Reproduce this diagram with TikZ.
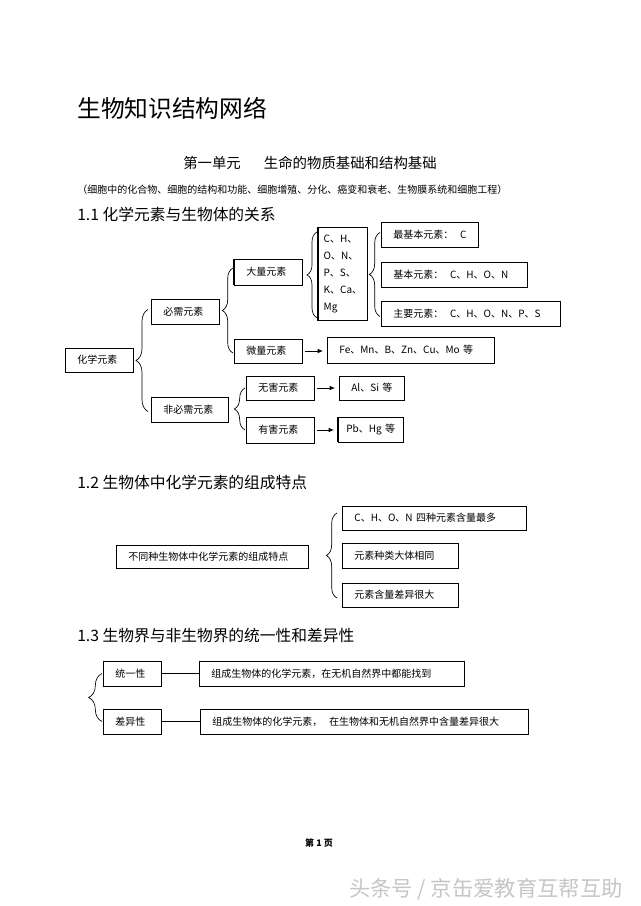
\documentclass[tikz,border=0pt]{standalone}
\usepackage{fontspec}
\setmainfont{Noto Sans CJK SC}
\usetikzlibrary{decorations.pathreplacing,arrows.meta}
\begin{document}
\begin{tikzpicture}[x=0.75pt,y=-0.75pt,
  box/.style={draw,line width=0.6pt,inner xsep=9pt,inner ysep=0pt,align=left,
    font=\fontsize{7.5}{9}\selectfont,anchor=west},
  brc/.style={decorate,decoration={brace,amplitude=8pt},line width=0.5pt},
  arr/.style={-{Latex[length=4pt,width=3.5pt]},line width=0.6pt,shorten <=2pt,shorten >=3pt},
  thickedge/.style={line width=1.3pt},
  lbl/.style={anchor=west,inner sep=0pt}]
\fill[white] (0,0) rectangle (640,906);
\path[use as bounding box] (0,0) rectangle (640,906);

% headings
\node[lbl,font=\fontsize{17.8}{20}\selectfont] (title) at (77,108) {生物知识结构网络};
\node[lbl,font=\fontsize{10.8}{13}\selectfont] (sub) at (183,163) {第一单元\hspace{1.6em}生命的物质基础和结构基础};
\node[lbl,font=\fontsize{7.5}{9}\selectfont] (paren) at (77,190) {（细胞中的化合物、细胞的结构和功能、细胞增殖、分化、癌变和衰老、生物膜系统和细胞工程）};
\node[lbl,font=\fontsize{11.8}{14}\selectfont] (h11) at (77,214) {1.1 化学元素与生物体的关系};
\node[lbl,font=\fontsize{11.8}{14}\selectfont] (h12) at (77,482) {1.2 生物体中化学元素的组成特点};
\node[lbl,font=\fontsize{11.8}{14}\selectfont] (h13) at (77,636) {1.3 生物界与非生物界的统一性和差异性};

% 1.1
\node[box,text width=33pt,minimum height=18pt] (hx) at (65,360) {化学元素};
\node[box,text width=33pt,minimum height=18.75pt] (bx) at (151,311.5) {必需元素};
\node[box,text width=39.75pt,minimum height=18.75pt] (fbx) at (151,409.5) {非必需元素};
\node[box,text width=33pt,minimum height=19.5pt] (dl) at (234,272) {大量元素};
\node[box,text width=33pt,minimum height=18pt] (wl) at (234,351) {微量元素};
\node[box,text width=33pt,minimum height=18pt] (wh) at (246,388) {无害元素};
\node[box,text width=33pt,minimum height=19.5pt] (yh) at (246,430) {有害元素};
\node[box,anchor=north west,inner xsep=3.2pt,minimum width=36.75pt,minimum height=69.75pt,
  font=\fontsize{7.5}{12.75}\selectfont] (chon) at (318,227) {C、H、\\O、N、\\P、S、\\K、Ca、\\Mg};
\node[box,text width=54.75pt,minimum height=18.75pt] (zjb) at (381,234.5) {\mbox{最基本元素：\ \ C}};
\node[box,text width=91.5pt,minimum height=18.75pt] (jb) at (381,274.5) {\mbox{基本元素：\ \ C、H、O、N}};
\node[box,text width=116.25pt,minimum height=18.75pt] (zy) at (381,313.5) {\mbox{主要元素：\ \ C、H、O、N、P、S}};
\node[box,text width=107.25pt,minimum height=19.5pt] (fe) at (327,350) {\mbox{Fe、Mn、B、Zn、Cu、Mo 等}};
\node[box,text width=30.75pt,minimum height=18pt] (al) at (339,388) {\mbox{Al、Si 等}};
\node[box,inner xsep=6pt,text width=36.75pt,minimum height=18.75pt] (pb) at (338,429.5) {\mbox{Pb、Hg 等}};

\draw[thickedge] (dl.north west) -- (dl.south west);
\draw[thickedge] (chon.north west) -- (chon.south west);
\draw[thickedge] (pb.north west) -- (pb.south west);

\draw[brc,decoration={amplitude=9pt}] ([shift={(-3,2)}]fbx.west) -- ([shift={(-3,-2)}]bx.west);
\draw[brc] ([shift={(-1,2)}]wl.west) -- ([shift={(-1,-4)}]dl.west);
\draw[brc] ([shift={(-1,0)}]yh.west) -- ([shift={(-1,0)}]wh.west);
\draw[brc,decoration={amplitude=7.5pt}] ([shift={(-1,-3)}]chon.south west) -- ([shift={(-1,5)}]chon.north west);
\draw[brc] ([shift={(-1,3)}]zy.west) -- ([shift={(-1,-2)}]zjb.west);

\draw[arr] (wl.east) -- (wl.east -| fe.west);
\draw[arr] (wh.east) -- (wh.east -| al.west);
\draw[arr] (yh.east) -- (yh.east -| pb.west);

% 1.2
\node[box,text width=126pt,minimum height=17.25pt] (tz) at (116,556.5) {\mbox{不同种生物体中化学元素的组成特点}};
\node[box,text width=120pt,minimum height=18pt] (c1) at (342,518) {\mbox{C、H、O、N 四种元素含量最多}};
\node[box,text width=69pt,minimum height=18.75pt] (c2) at (342,555.5) {元素种类大体相同};
\node[box,text width=69pt,minimum height=18pt] (c3) at (342,595) {元素含量差异很大};
\draw[brc] ([shift={(-5,3)}]c3.west) -- ([shift={(-5,-5)}]c1.west);

% 1.3
\node[box,text width=25.5pt,minimum height=18.75pt] (ty) at (103,673.5) {统一性};
\node[box,text width=25.5pt,minimum height=18.75pt] (cy) at (103,721.5) {差异性};
\node[box,text width=180.75pt,minimum height=18.75pt] (ty2) at (199,673.5) {\mbox{组成生物体的化学元素，在无机自然界中都能找到}};
\node[box,text width=228pt,minimum height=18.75pt] (cy2) at (200,721.5) {\mbox{组成生物体的化学元素，\ \ 在生物体和无机自然界中含量差异很大}};
\draw[line width=0.6pt] (ty.east) -- (ty2.west);
\draw[line width=0.6pt] (cy.east) -- (cy2.west);
\draw[brc,decoration={amplitude=10pt}] ([shift={(-1,0)}]cy.west) -- ([shift={(-1,0)}]ty.west);

% footer
\node[font=\fontsize{6.75}{8}\selectfont\bfseries] (page) at (319,843) {第 1 页};
\node[font=\fontsize{16}{18}\selectfont,text=gray!45] (wm) at (486,889) {头条号 / 京缶爱教育互帮互助};
\end{tikzpicture}
\end{document}
